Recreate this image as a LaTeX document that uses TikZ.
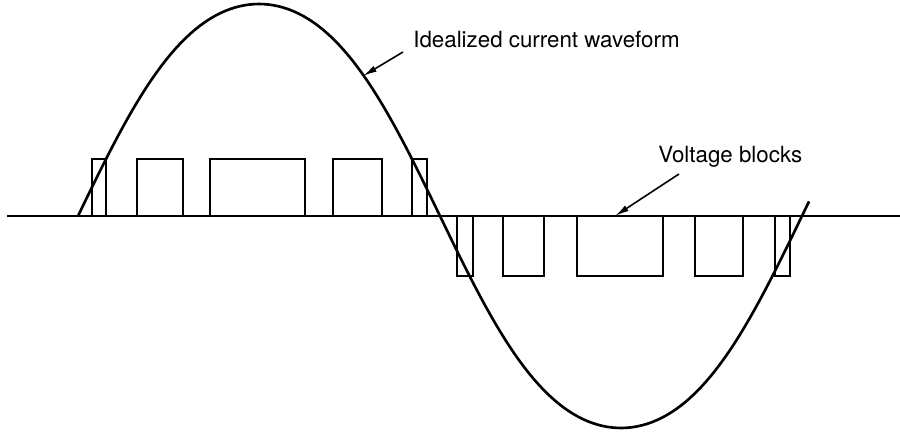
\documentclass[tikz,border=0pt]{standalone}
\usepackage{fontspec}
\setmainfont{TeX Gyre Heros}
\usetikzlibrary{arrows.meta,positioning}

\begin{document}
\begin{tikzpicture}[
  wave/.style={line width=1.5pt},
  vblock/.style={line width=1.1pt},
  axisline/.style={line width=0.9pt},
  pointer/.style={draw, -{Latex[length=2.8mm,width=1.3mm]}, line width=0.9pt},
  every node/.style={font=\fontsize{12.7}{14}\selectfont, inner sep=0pt}
]
\useasboundingbox (0,-4.4) rectangle (18,4.32);
\draw[axisline] (0.14,0) -- (18,0);
\foreach \a/\b in {1.84/2.12, 2.74/3.66, 4.20/6.10, 6.66/7.64, 8.24/8.54}
  \draw[vblock] (\a,0) rectangle (\b,1.14);
\foreach \a/\b in {9.14/9.46, 10.06/10.88, 11.54/13.26, 13.90/14.86, 15.50/15.80}
  \draw[vblock] (\a,0) rectangle (\b,-1.2);
\draw[wave, domain=0:363.5, samples=150, variable=\t]
  plot ({1.56+\t/180*7.24}, {4.24*(sin(\t)+0.03*sin(3*\t))/0.97});
\node[anchor=base west] (lblcur) at (8.26,3.37) {Idealized current waveform};
\node[anchor=base west] (lblvolt) at (13.16,1.06) {Voltage blocks};
\coordinate (curtip) at (7.26,2.80);
\coordinate (volttip) at (12.3,0);
\draw[pointer] ([xshift=-0.2cm,yshift=-0.09cm]lblcur.base west) -- (curtip);
\draw[pointer] ([xshift=0.42cm,yshift=-0.22cm]lblvolt.base west) -- (volttip);
\end{tikzpicture}
\end{document}
